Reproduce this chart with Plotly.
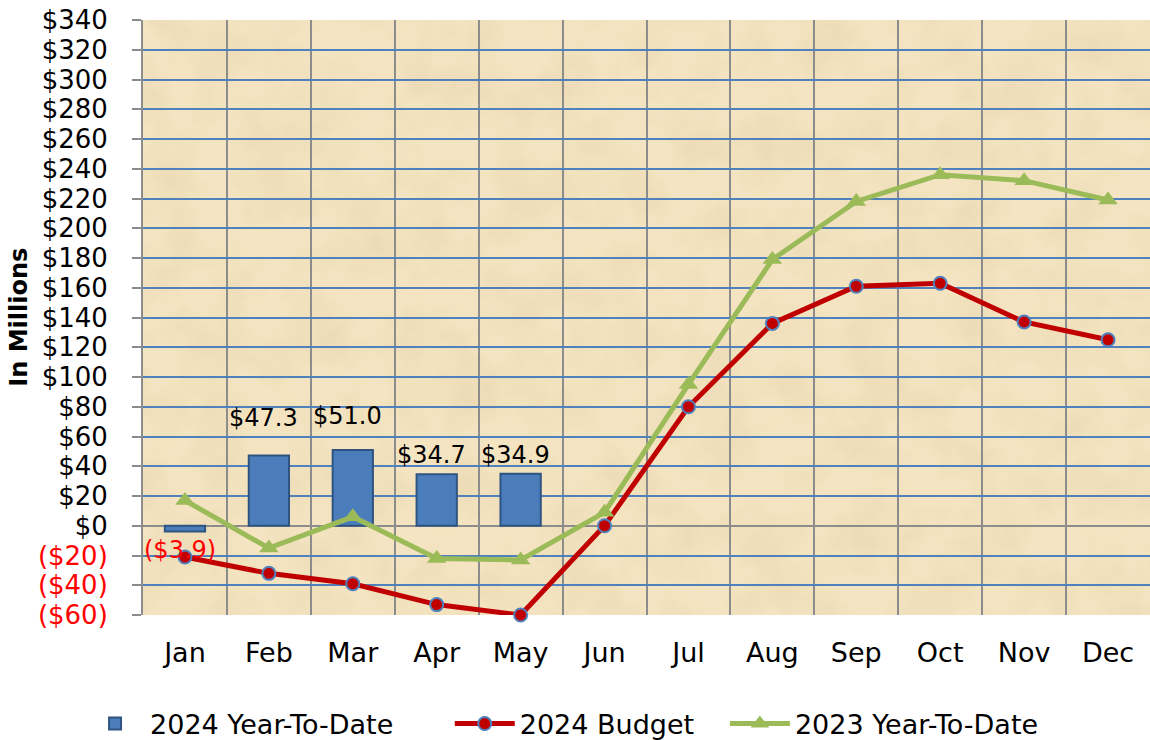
import base64
import plotly.graph_objects as go

months = ["Jan", "Feb", "Mar", "Apr", "May", "Jun", "Jul", "Aug", "Sep", "Oct", "Nov", "Dec"]
ytd_2024 = [-3.9, 47.3, 51.0, 34.7, 34.9]
budget_2024 = [-21, -32, -39, -53, -60, 0, 80, 136, 161, 163, 137, 125]
ytd_2023 = [17, -15, 6, -22, -23, 9, 95, 179, 218, 236, 232, 219]
y_ticks = list(range(-60, 341, 20))

# styling for the bar value labels (pixel offsets, not data)
label_yshift = [-18, 37, 34, 19, 19]
label_xshift = -5
NB = "\u00a0"

def money(v, dec=0):
    s = f"${abs(v):,.{dec}f}"
    return f"({s})" if v < 0 else s

tick_text = [
    f"<span style='color:#FF0000'>{money(v)}</span>" if v < 0 else money(v)
    for v in y_ticks
]

FONT = "DejaVu Sans"
BLUE = "#4F81BD"

svg = (
    "<svg xmlns='http://www.w3.org/2000/svg' width='1000' height='600'>"
    "<filter id='n' x='0' y='0' width='100%' height='100%'>"
    "<feTurbulence type='fractalNoise' baseFrequency='0.02' numOctaves='5' seed='7'/>"
    "<feColorMatrix values='0 0 0 0 0.80  0 0 0 0 0.66  0 0 0 0 0.42  0 0 0 1.7 -0.6'/>"
    "</filter>"
    "<rect width='100%' height='100%' fill='#F4E4C1'/>"
    "<rect width='100%' height='100%' filter='url(#n)' opacity='0.6'/>"
    "</svg>"
)
bg_uri = "data:image/svg+xml;base64," + base64.b64encode(svg.encode()).decode()

fig = go.Figure()

fig.add_trace(go.Bar(
    x=months[:len(ytd_2024)], y=ytd_2024, name="2024 Year-To-Date" + NB * 6,
    width=0.48,
    marker=dict(color="#4A7DBA", line=dict(color="#2F5482", width=2)),
    hoverinfo="skip",
))

fig.add_trace(go.Scatter(
    x=months, y=budget_2024, name="2024 Budget" + NB * 3, mode="lines+markers",
    line=dict(color="#C00000", width=5),
    marker=dict(symbol="circle", size=13, color="#C00000", line=dict(color=BLUE, width=2)),
    cliponaxis=False, hoverinfo="skip",
))

fig.add_trace(go.Scatter(
    x=months, y=ytd_2023, name="2023 Year-To-Date", mode="lines+markers",
    line=dict(color="#9BBB59", width=5),
    marker=dict(symbol="triangle-up", size=17, color="#9BBB59"),
    cliponaxis=False, hoverinfo="skip",
))

for i, v in enumerate(ytd_2024):
    fig.add_annotation(
        x=months[i], y=v, text=money(v, 1), showarrow=False,
        xshift=label_xshift, yshift=label_yshift[i], yanchor="middle",
        font=dict(family=FONT, size=24, color="#FF0000" if v < 0 else "#000000"),
    )

fig.add_annotation(
    xref="paper", yref="paper", x=-0.124, y=0.5, text="<b>In Millions</b>",
    textangle=-90, showarrow=False, xanchor="center", yanchor="middle",
    font=dict(family=FONT, size=24, color="#000000"),
)

fig.add_layout_image(dict(
    source=bg_uri, xref="paper", yref="paper", x=0, y=1, sizex=1, sizey=1,
    xanchor="left", yanchor="top", sizing="stretch", layer="below",
))

fig.update_layout(
    width=1150, height=740,
    margin=dict(l=143, r=0, t=20, b=125, autoexpand=False),
    paper_bgcolor="#FFFFFF", plot_bgcolor="#F1DFBA",
    font=dict(family=FONT, size=25, color="#000000"),
    showlegend=True,
    legend=dict(
        orientation="h", xref="container", yref="container",
        x=0.0696, xanchor="left", y=0.0216, yanchor="middle",
        font=dict(family=FONT, size=27), itemwidth=60, tracegroupgap=0,
    ),
    bargap=0.5,
)

fig.update_xaxes(
    type="category", range=[-0.5, 11.5], tickson="boundaries",
    showgrid=True, gridcolor="#8C8C8C", gridwidth=2,
    ticks="", showline=False, tickfont=dict(family=FONT, size=27),
    ticklabelstandoff=19, fixedrange=True,
)

fig.update_yaxes(
    range=[-60, 340], tickvals=y_ticks, ticktext=tick_text,
    showgrid=True, gridcolor=BLUE, gridwidth=2,
    zeroline=True, zerolinecolor="#8C8C8C", zerolinewidth=2,
    showline=True, linecolor="#8C8C8C", linewidth=2,
    ticks="outside", ticklen=9, tickcolor="#8C8C8C", tickwidth=2,
    ticklabelstandoff=19, tickfont=dict(family=FONT, size=26), fixedrange=True,
)

fig.write_html(
    "out.html",
    config={"displayModeBar": False},
    post_script="document.body.style.margin='0';document.body.style.overflow='hidden';",
)
